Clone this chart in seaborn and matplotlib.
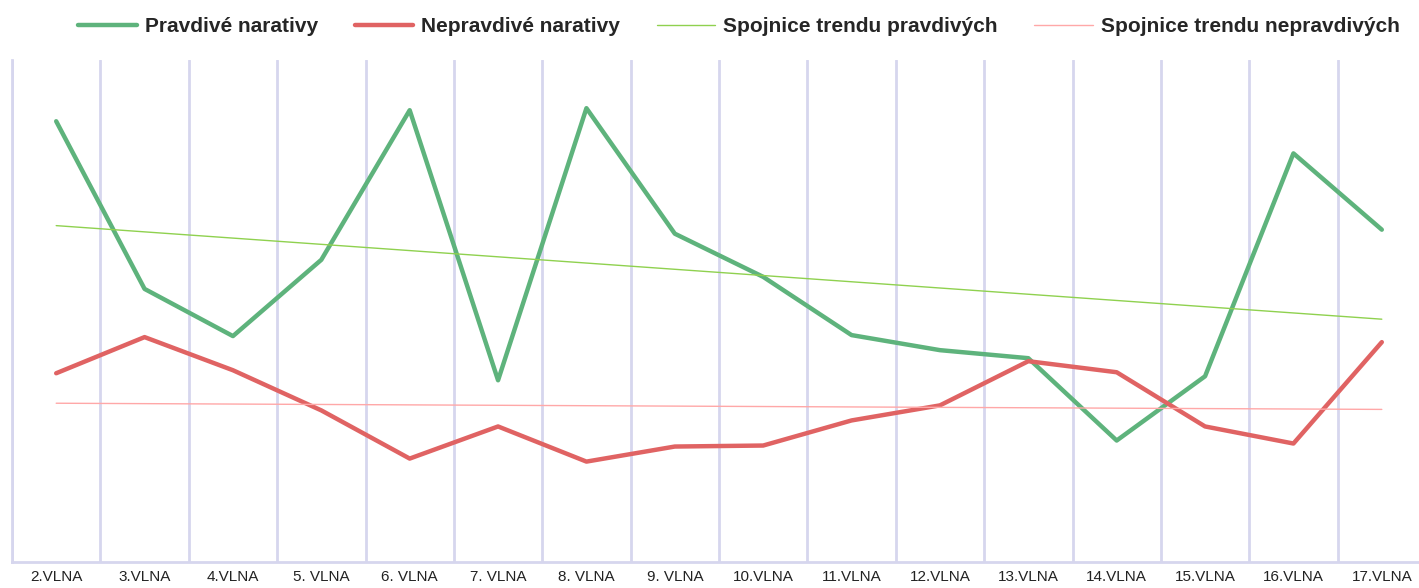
import numpy as np
import pandas as pd
import matplotlib.pyplot as plt
import seaborn as sns

waves = ["2.VLNA", "3.VLNA", "4.VLNA", "5. VLNA", "6. VLNA", "7. VLNA", "8. VLNA", "9. VLNA",
         "10.VLNA", "11.VLNA", "12.VLNA", "13.VLNA", "14.VLNA", "15.VLNA", "16.VLNA", "17.VLNA"]
pravdive = [43.9, 27.2, 22.5, 30.1, 45.0, 18.1, 45.2, 32.7, 28.4, 22.6, 21.1, 20.3, 12.1, 18.5, 40.7, 33.1]
nepravdive = [18.8, 22.4, 19.1, 15.1, 10.3, 13.5, 10.0, 11.5, 11.6, 14.1, 15.6, 20.0, 18.9, 13.5, 11.8, 21.9]

sns.set_style("white")
plt.rcParams['font.family'] = ['Liberation Sans', 'DejaVu Sans']

x = np.arange(len(waves))
df = pd.DataFrame({"x": x, "pravdive": pravdive, "nepravdive": nepravdive})

# linear trends like the Excel "spojnice trendu"
df["trend_p"] = np.polyval(np.polyfit(x, pravdive, 1), x)
df["trend_n"] = np.polyval(np.polyfit(x, nepravdive, 1), x)

fig = plt.figure(figsize=(14.19, 5.88), dpi=100)
ax = fig.add_axes([12/1419, 26/588, 1414/1419, 502/588])

grid_col = "#d6d6ee"
sns.lineplot(data=df, x="x", y="pravdive", ax=ax, color="#5eb37c", lw=3.2, label="Pravdivé narativy")
sns.lineplot(data=df, x="x", y="nepravdive", ax=ax, color="#e06363", lw=3.2, label="Nepravdivé narativy")
sns.lineplot(data=df, x="x", y="trend_p", ax=ax, color="#8fd14f", lw=1.0, label="Spojnice trendu pravdivých")
sns.lineplot(data=df, x="x", y="trend_n", ax=ax, color="#ffa8a8", lw=1.0, label="Spojnice trendu nepravdivých")

ax.set_xlim(-0.5, len(waves) - 0.5)
ax.set_ylim(0, 50)
ax.set_xticks(x)
ax.set_xticklabels(waves, fontsize=11, color="#222222")
ax.set_xticks(np.arange(len(waves) + 1) - 0.5, minor=True)
ax.tick_params(axis="x", which="major", length=0, pad=6)
ax.tick_params(axis="x", which="minor", length=4, color=grid_col, width=2)
ax.set_yticks([])
ax.grid(axis="x", which="minor", color=grid_col, lw=2)
ax.set_xlabel("")
ax.set_ylabel("")
for s in ["top", "right"]:
    ax.spines[s].set_visible(False)
ax.spines["left"].set_color(grid_col)
ax.spines["left"].set_linewidth(2)
ax.spines["bottom"].set_color(grid_col)
ax.spines["bottom"].set_linewidth(2)

handles, labels = ax.get_legend_handles_labels()
ax.get_legend().remove()
leg = fig.legend(handles, labels, loc="center", ncol=4,
                 frameon=False, handlelength=2.8, columnspacing=1.75, handletextpad=0.4,
                 prop={"weight": "bold", "size": 15})
leg.set_bbox_to_anchor((739/1419, 1 - 27/588), transform=fig.transFigure)

fig.savefig("out.png", dpi=100)
